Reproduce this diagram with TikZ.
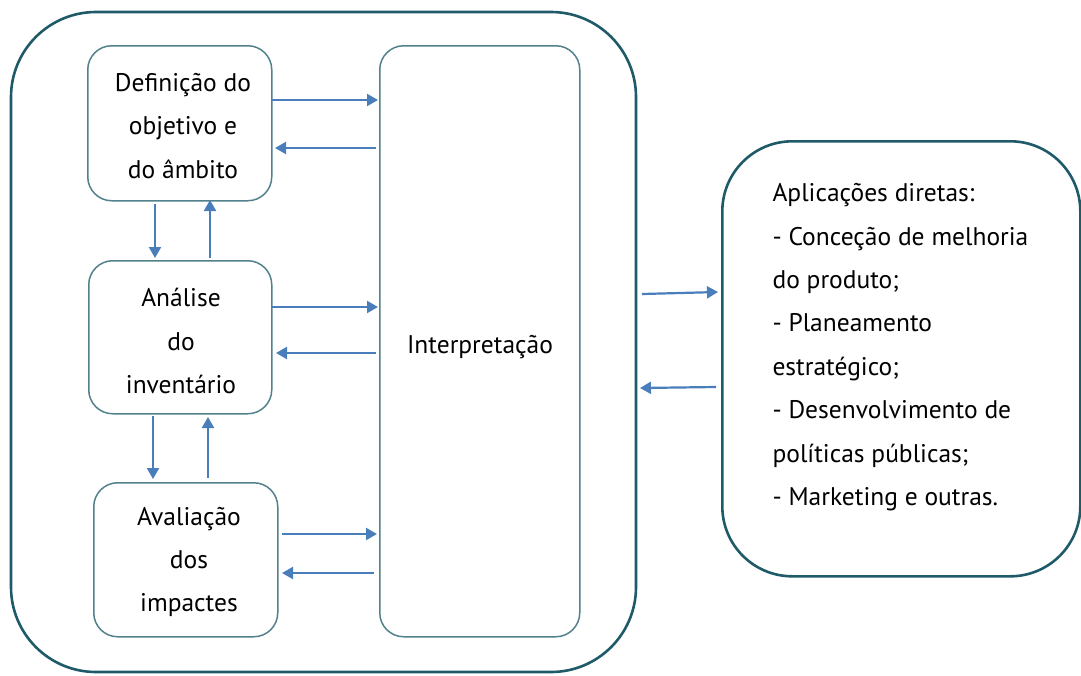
\documentclass[tikz,border=0pt]{standalone}
\usepackage{fontspec}
\setmainfont{PT Sans}
\usetikzlibrary{arrows.meta}
\definecolor{outerc}{HTML}{1F5A68}
\definecolor{innerc}{HTML}{52808B}
\definecolor{arrc}{HTML}{4A7EBB}
\tikzset{
  outerbox/.style={draw=outerc, line width=2.6pt, rounded corners=85pt},
  innerbox/.style={draw=innerc, line width=1.5pt, rounded corners=24pt},
  flow/.style={draw=arrc, line width=2.2pt, -{Triangle[length=11pt,width=12pt]}},
  lbl/.style={font=\fontsize{25.5}{43.4}\selectfont, text=black, align=center},
}
\begin{document}
\begin{tikzpicture}[x=1pt,y=-1pt]
\useasboundingbox (0,0) rectangle (1081,675);
% outer box
\draw[outerbox] (11,12) rectangle (636,672);
\node[outerbox, rounded corners=70pt, minimum width=358pt, minimum height=435pt, anchor=north west] (apps) at (721,140) {};
% inner boxes
\node[innerbox, minimum width=184pt, minimum height=155pt, anchor=north west] (def) at (87,45) {};
\node[innerbox, minimum width=183pt, minimum height=153pt, anchor=north west] (ana) at (88,260) {};
\node[innerbox, minimum width=184pt, minimum height=154pt, anchor=north west] (ava) at (93,482) {};
\node[innerbox, minimum width=200pt, minimum height=591pt, anchor=north west] (int) at (379,45) {};
% texts
\node[lbl] (deft) at (183,126) {Definição do\\objetivo e\\do âmbito};
\node[lbl] (anat) at (181,341) {Análise\\do\\inventário};
\node[lbl] (avat) at (189,562) {Avaliação\\dos\\impactes};
\node[lbl] (intt) at (480,347) {Interpretação};
\node[lbl, align=left, anchor=north west] (appt) at (769,180) {Aplicações diretas:\\- Conceção de melhoria\\do produto;\\- Planeamento\\estratégico;\\- Desenvolvimento de\\políticas públicas;\\- Marketing e outras.};
% coordinates for arrows
\coordinate (a1s) at (272,100); \coordinate (a1e) at (378,100);
\coordinate (b1s) at (376,148); \coordinate (b1e) at (275,148);
\coordinate (d1s) at (155,204); \coordinate (d1e) at (155,258);
\coordinate (u1s) at (210,258); \coordinate (u1e) at (210,200);
\coordinate (a2s) at (272,307); \coordinate (a2e) at (378,307);
\coordinate (b2s) at (376,353); \coordinate (b2e) at (276,353);
\coordinate (d2s) at (153,416); \coordinate (d2e) at (153,479);
\coordinate (u2s) at (208,478); \coordinate (u2e) at (208,417);
\coordinate (a3s) at (282,534); \coordinate (a3e) at (377,534);
\coordinate (b3s) at (374,573); \coordinate (b3e) at (282,573);
\coordinate (a4s) at (642,294); \coordinate (a4e) at (718,292);
\coordinate (b4s) at (716,387); \coordinate (b4e) at (640,388);
\draw[flow] (a1s) -- (a1e);
\draw[flow] (b1s) -- (b1e);
\draw[flow] (d1s) -- (d1e);
\draw[flow] (u1s) -- (u1e);
\draw[flow] (a2s) -- (a2e);
\draw[flow] (b2s) -- (b2e);
\draw[flow] (d2s) -- (d2e);
\draw[flow] (u2s) -- (u2e);
\draw[flow] (a3s) -- (a3e);
\draw[flow] (b3s) -- (b3e);
\draw[flow] (a4s) -- (a4e);
\draw[flow] (b4s) -- (b4e);
\end{tikzpicture}
\end{document}
